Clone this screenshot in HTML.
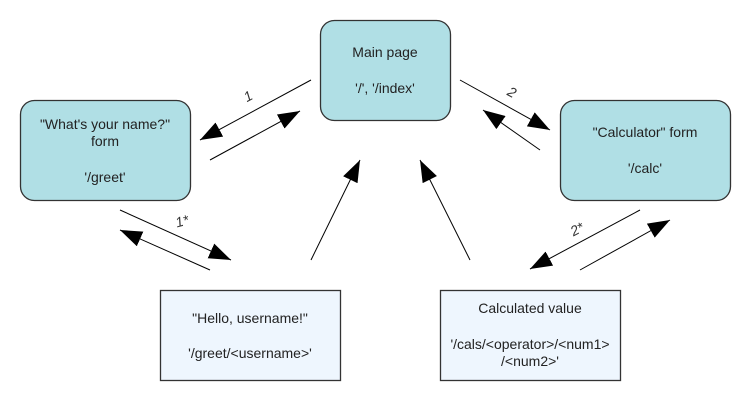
<!DOCTYPE html>
<html><head><meta charset="utf-8"><style>
html,body{margin:0;padding:0;background:#fff;}
svg{display:block;}
text{font-family:"Liberation Sans",sans-serif;font-size:14px;fill:#222;}
.l{font-family:"Liberation Sans",sans-serif;font-style:italic;font-size:14px;fill:#333;}
</style></head><body>
<svg width="750" height="400" viewBox="0 0 750 400" xmlns="http://www.w3.org/2000/svg">
<defs>
<marker id="a" markerWidth="22" markerHeight="16" refX="22" refY="8" orient="auto" markerUnits="userSpaceOnUse">
<path d="M0,0 L22,8 L0,16 z" fill="#000"/>
</marker>
</defs>
<g stroke="#333" stroke-width="1.3">
<rect x="320.5" y="20.5" width="130" height="100" rx="14" fill="#b0dfe5"/>
<rect x="20.5" y="100.5" width="170" height="100" rx="14" fill="#b0dfe5"/>
<rect x="560.5" y="100.5" width="170" height="100" rx="14" fill="#b0dfe5"/>
<rect x="160.5" y="290.5" width="180" height="90" fill="#eef6fe"/>
<rect x="440.5" y="290.5" width="180" height="90" fill="#eef6fe"/>
</g>
<g stroke="#000" stroke-width="1" fill="none" marker-end="url(#a)">
<line x1="311" y1="80" x2="200" y2="140"/>
<line x1="210" y1="160" x2="300" y2="111"/>
<line x1="460" y1="80" x2="550" y2="130"/>
<line x1="540" y1="150" x2="483" y2="110"/>
<line x1="120" y1="210" x2="231" y2="260"/>
<line x1="210" y1="270" x2="120" y2="230"/>
<line x1="640" y1="210" x2="530" y2="269"/>
<line x1="580" y1="270" x2="670" y2="220"/>
<line x1="311" y1="260" x2="360" y2="160"/>
<line x1="470" y1="260" x2="420" y2="160"/>
</g>
<text class="l" x="248" y="101" transform="rotate(-28 248 96)" text-anchor="middle">1</text>
<text class="l" x="512" y="97" transform="rotate(28 512 92)" text-anchor="middle">2</text>
<text class="l" x="182" y="226" transform="rotate(-15 182 221)" text-anchor="middle">1*</text>
<text class="l" x="577" y="234" transform="rotate(-28 577 229)" text-anchor="middle">2*</text>
<g text-anchor="middle">
<text x="385" y="57">Main page</text>
<text x="385" y="93">'/', '/index'</text>
<text x="105" y="129">"What's your name?"</text>
<text x="105" y="146">form</text>
<text x="105" y="182">'/greet'</text>
<text x="645" y="137">"Calculator" form</text>
<text x="645" y="173">'/calc'</text>
<text x="250" y="323">"Hello, username!"</text>
<text x="250" y="358">'/greet/&lt;username&gt;'</text>
<text x="530" y="313">Calculated value</text>
<text x="530" y="349">'/cals/&lt;operator&gt;/&lt;num1&gt;</text>
<text x="530" y="366">/&lt;num2&gt;'</text>
</g>
</svg>
</body></html>
